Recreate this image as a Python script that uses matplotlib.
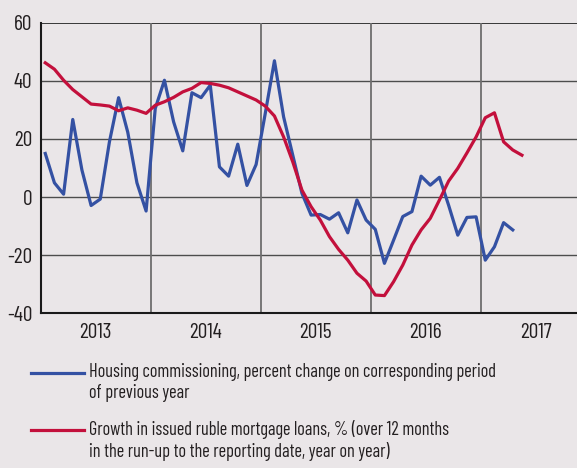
import numpy as np
import matplotlib.pyplot as plt
from matplotlib.lines import Line2D

plt.rcParams['font.family'] = ['Barlow Condensed', 'DejaVu Sans']
plt.rcParams['axes.unicode_minus'] = False

# monthly data, Jan 2013 onwards
housing = [15.0, 4.9, 1.0, 26.7, 9.3, -2.9, -0.7, 19.0, 34.2, 22.3, 4.9, -4.8,
           30.5, 40.2, 25.9, 15.9, 35.9, 34.2, 38.5, 10.4, 7.2, 18.2, 4.0, 11.2,
           28.8, 46.9, 27.6, 14.4, 1.3, -6.2, -6.0, -7.6, -5.4, -12.3, -1.0, -7.9,
           -11.1, -22.8, -14.8, -6.7, -5.0, 7.2, 4.1, 6.8, -2.8, -13.1, -7.0, -6.8,
           -21.7, -17.1, -8.8, -11.3]
mortgage = [46.2, 44.0, 40.2, 37.0, 34.5, 32.0, 31.7, 31.3, 29.7, 30.7, 29.9, 28.8,
            31.6, 32.8, 34.3, 36.2, 37.4, 39.4, 39.1, 38.5, 37.6, 36.2, 34.8, 33.4,
            31.3, 27.9, 20.7, 12.1, 2.4, -3.3, -7.9, -13.6, -18.0, -21.7, -26.2, -28.9,
            -33.7, -33.9, -29.1, -23.4, -16.5, -11.3, -7.3, -1.0, 5.5, 9.9, 15.2, 20.7,
            27.3, 29.0, 19.0, 16.2, 14.4]
years = [2013, 2014, 2015, 2016, 2017]
labels = ['Housing commissioning, percent change on corresponding period\nof previous year',
          'Growth in issued ruble mortgage loans, % (over 12 months\nin the run-up to the reporting date, year on year)']

x_h = 2013 + (np.arange(len(housing)) + 0.5) / 12
x_m = 2013 + (np.arange(len(mortgage)) + 0.5) / 12

bg = '#eae6e8'
txt = '#231f20'
blue = '#3451a3'
red = '#c3103c'

fig = plt.figure(figsize=(5.77, 4.68), dpi=100, facecolor=bg)
ax = fig.add_axes([0.0705, 0.3305, 0.9295, 0.621])
ax.set_facecolor(bg)

for y in [-20, 0, 20, 40]:
    ax.axhline(y, color='#4d4d4d', lw=1.0, zorder=1)
ax.axhline(60, color='#1a1a1a', lw=1.2, zorder=1)
for yr in years[1:]:
    ax.axvline(yr, color='#6e6e6e', lw=1.3, zorder=1)

ax.plot(x_h, housing, color=blue, lw=2.3, zorder=3)
ax.plot(x_m, mortgage, color=red, lw=2.3, zorder=4)

ax.set_xlim(2013, 2013 + (577 - 40.7) / 110)
ax.set_ylim(-40, 60)
ax.set_yticks([-40, -20, 0, 20, 40, 60])
ax.set_yticklabels(['-40', '-20', '0', '20', '40', '60'])
ax.set_xticks([yr + 0.5 for yr in years])
ax.set_xticklabels([str(yr) for yr in years])
ax.tick_params(length=0, labelsize=15.5, labelcolor=txt)
ax.tick_params(axis='y', pad=6)
ax.tick_params(axis='x', pad=7)
for s in ['top', 'right']:
    ax.spines[s].set_visible(False)
for s in ['left', 'bottom']:
    ax.spines[s].set_color('#1a1a1a')
    ax.spines[s].set_linewidth(1.5)

# legend drawn by hand so handle sits on the first text line
W, H = 577, 468
for ypix, col, lab in [(373, blue, labels[0]), (430, red, labels[1])]:
    fig.add_artist(Line2D([31 / W, 84 / W], [1 - ypix / H, 1 - ypix / H],
                          color=col, lw=2.3, transform=fig.transFigure))
    fig.text(89 / W, 1 - (ypix - 10) / H, lab, fontsize=13.2, color=txt,
             va='top', ha='left', linespacing=1.2)

fig.savefig('out.png', dpi=100, facecolor=bg)
